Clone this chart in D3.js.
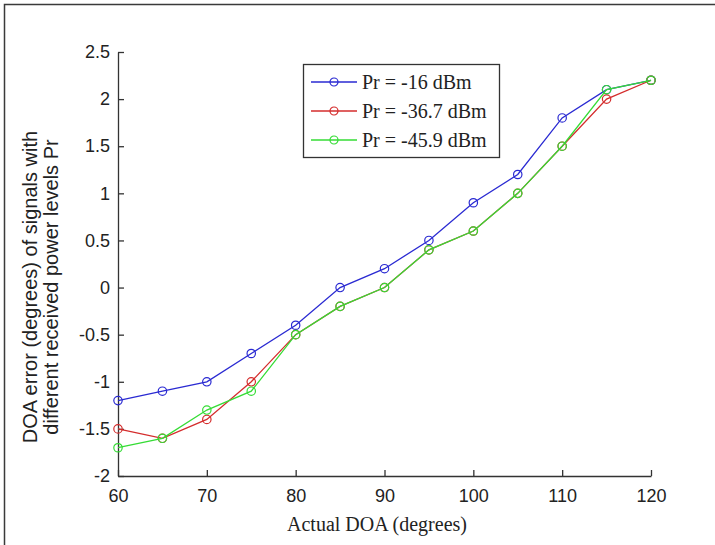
<!DOCTYPE html>
<html>
<head>
<meta charset="utf-8">
<script src="https://cdn.jsdelivr.net/npm/d3@7"></script>
<style>
	body { margin: 0; background: #fff; }
	svg { display: block; }
</style>
</head>
<body>
<svg id="chart"></svg>
<script>
// actual DOA values (degrees)
var doaValues = [60, 65, 70, 75, 80, 85, 90, 95, 100, 105, 110, 115, 120];
// DOA error for each received power level
var errPr16 = [-1.2, -1.1, -1.0, -0.7, -0.4, 0.0, 0.2, 0.5, 0.9, 1.2, 1.8, 2.1, 2.2];
var errPr367 = [-1.5, -1.6, -1.4, -1.0, -0.5, -0.2, 0.0, 0.4, 0.6, 1.0, 1.5, 2.0, 2.2];
var errPr459 = [-1.7, -1.6, -1.3, -1.1, -0.5, -0.2, 0.0, 0.4, 0.6, 1.0, 1.5, 2.1, 2.2];
var seriesNames = ["Pr = -16 dBm", "Pr = -36.7 dBm", "Pr = -45.9 dBm"];
var seriesColors = ["#2a2ad2", "#d42c2c", "#35dc35"];
// tick labels
var xTicks = [60, 70, 80, 90, 100, 110, 120];
var yTicks = [-2, -1.5, -1, -0.5, 0, 0.5, 1, 1.5, 2, 2.5];

var series = [errPr16, errPr367, errPr459].map(function(v, i){
	return {name: seriesNames[i], values: v, color: seriesColors[i]};
});

var svgWidth = 715, svgHeight = 545;
var margin = { top: 52, right: 64, bottom: 69, left: 118 };
var serif = "'Liberation Serif', 'Times New Roman', serif";
var sans = "'Liberation Sans', Arial, sans-serif";

var svg = d3.select("#chart")
	.attr("width", svgWidth)
	.attr("height", svgHeight)
	.style("font-family", serif);

//outer frame (only left and top edges are visible)
svg.append("path")
	.attr("d", "M4.5," + svgHeight + "V4.5H" + svgWidth)
	.attr("fill", "none")
	.attr("stroke", "#3a3a3a")
	.attr("stroke-width", 1.5);

var x = d3.scaleLinear()
	.domain([60, 120])
	.range([margin.left, svgWidth - margin.right]);

var y = d3.scaleLinear()
	.domain([-2, 2.5])
	.range([svgHeight - margin.bottom, margin.top]);

//x axis with inward ticks
var xAxis = svg.append("g")
	.attr("transform", `translate(0,${y(-2)})`)
	.call(d3.axisBottom(x)
		.tickValues(xTicks)
		.tickSizeInner(-6)
		.tickSizeOuter(0)
		.tickPadding(13)
		.tickFormat(d3.format("d")));

//y axis with inward ticks
var yAxis = svg.append("g")
	.attr("transform", `translate(${x(60)},0)`)
	.call(d3.axisLeft(y)
		.tickValues(yTicks)
		.tickSizeInner(-6)
		.tickSizeOuter(0)
		.tickPadding(8)
		.tickFormat(function(d){ return d === 0 ? "0" : String(d); }));

svg.selectAll(".domain").attr("stroke", "#333").attr("stroke-width", 1.3);
svg.selectAll(".tick line").attr("stroke", "#333").attr("stroke-width", 1.3);
svg.selectAll(".tick text")
	.attr("fill", "#222")
	.attr("font-family", sans)
	.style("font-family", sans)
	.style("font-size", "18px");

//axis titles
svg.append("text")
	.attr("x", 377)
	.attr("y", 531)
	.attr("text-anchor", "middle")
	.attr("fill", "#222")
	.style("font-size", "20px")
	.text("Actual DOA (degrees)");

var yTitle = svg.append("text")
	.attr("transform", "translate(37,287) rotate(-90)")
	.attr("text-anchor", "middle")
	.attr("fill", "#222")
	.style("font-family", sans)
	.style("font-size", "20px");
yTitle.append("tspan").attr("x", 0).attr("dy", 0).text("DOA error (degrees) of signals with");
yTitle.append("tspan").attr("x", 0).attr("dy", 21).text("different received power levels Pr");

//data lines and markers
var line = d3.line()
	.x(function(d, i){ return x(doaValues[i]); })
	.y(function(d){ return y(d); });

var groups = svg.append("g")
	.selectAll("g")
	.data(series)
	.join("g");

groups.append("path")
	.attr("d", function(d){ return line(d.values); })
	.attr("fill", "none")
	.attr("stroke", function(d){ return d.color; })
	.attr("stroke-width", 1.3);

groups.selectAll("circle")
	.data(function(d){ return d.values.map(function(v, i){ return {x: doaValues[i], y: v, color: d.color}; }); })
	.join("circle")
	.attr("cx", function(d){ return x(d.x); })
	.attr("cy", function(d){ return y(d.y); })
	.attr("r", 4.2)
	.attr("fill", "none")
	.attr("stroke", function(d){ return d.color; })
	.attr("stroke-width", 1.2);

//legend
var legend = svg.append("g").attr("transform", "translate(303,64)");
legend.append("rect")
	.attr("x", 0.5).attr("y", 0.5)
	.attr("width", 196).attr("height", 93)
	.attr("fill", "#fff")
	.attr("stroke", "#333")
	.attr("stroke-width", 1.3);

var items = legend.selectAll("g.item")
	.data(series)
	.join("g")
	.attr("class", "item")
	.attr("transform", function(d, i){ return `translate(0,${18 + i * 29})`; });

items.append("line")
	.attr("x1", 8).attr("x2", 54)
	.attr("stroke", function(d){ return d.color; })
	.attr("stroke-width", 1.3);
items.append("circle")
	.attr("cx", 31).attr("r", 4)
	.attr("fill", "none")
	.attr("stroke", function(d){ return d.color; })
	.attr("stroke-width", 1.2);
items.append("text")
	.attr("x", 59)
	.attr("dy", "0.35em")
	.attr("fill", "#222")
	.style("font-size", "20px")
	.text(function(d){ return d.name; });
</script>
</body>
</html>
